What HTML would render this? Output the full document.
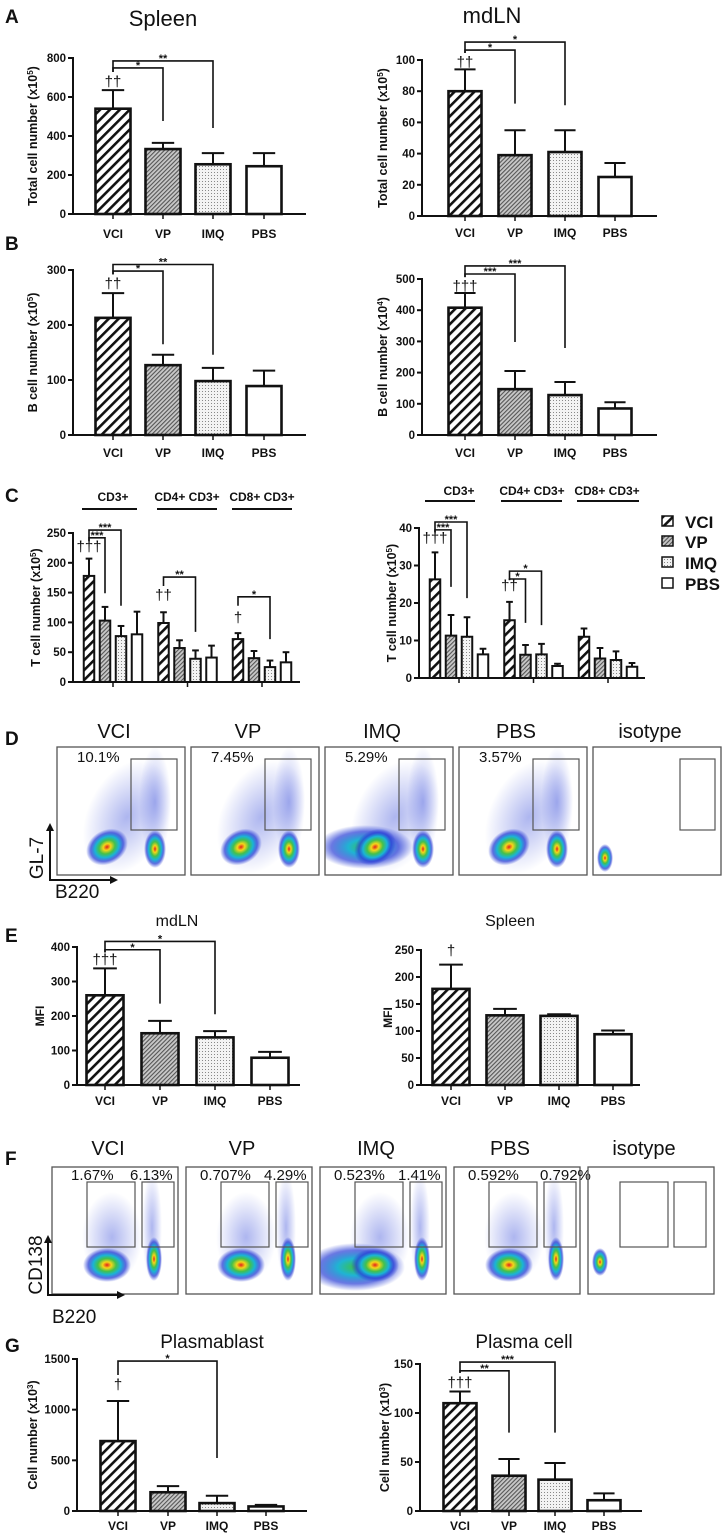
<!DOCTYPE html>
<html><head><meta charset="utf-8"><style>
html,body{margin:0;padding:0;background:#fff;}
svg{display:block;font-family:"Liberation Sans",Arial,sans-serif;}
</style></head>
<body>
<svg id="fig" width="724" height="1535" viewBox="0 0 724 1535" xmlns="http://www.w3.org/2000/svg">
<defs>
<pattern id="p-vci" patternUnits="userSpaceOnUse" width="7" height="7" patternTransform="rotate(45)">
<rect width="7" height="7" fill="#fff"/><rect x="0" y="0" width="2.6" height="7" fill="#111"/></pattern>
<pattern id="p-vp" patternUnits="userSpaceOnUse" width="3" height="3" patternTransform="rotate(45)">
<rect width="3" height="3" fill="#c8c8c8"/><rect x="0" y="0" width="1.1" height="3" fill="#555"/></pattern>
<pattern id="p-imq" patternUnits="userSpaceOnUse" width="3" height="3">
<rect width="3" height="3" fill="#f3f3f3"/><rect x="1" y="1" width="1" height="1" fill="#888"/></pattern>
<pattern id="p-pbs" patternUnits="userSpaceOnUse" width="4" height="4"><rect width="4" height="4" fill="#fff"/></pattern>
<radialGradient id="g-core"><stop offset="0" stop-color="#e3201b"/><stop offset="0.18" stop-color="#f5d619"/><stop offset="0.38" stop-color="#44c04a"/><stop offset="0.58" stop-color="#19b5d6"/><stop offset="0.78" stop-color="#2a3fd6" stop-opacity="0.75"/><stop offset="1" stop-color="#2a3fd6" stop-opacity="0"/></radialGradient>
<radialGradient id="g-core2"><stop offset="0" stop-color="#3ac24a"/><stop offset="0.35" stop-color="#1fb4d3"/><stop offset="0.7" stop-color="#2a3fd6" stop-opacity="0.7"/><stop offset="1" stop-color="#2a3fd6" stop-opacity="0"/></radialGradient>
<radialGradient id="g-haze"><stop offset="0" stop-color="#3348d8" stop-opacity="0.4"/><stop offset="1" stop-color="#3348d8" stop-opacity="0"/></radialGradient>
</defs>
</svg>
<script>
// ---------- data ----------
const cats = ['VCI','VP','IMQ','PBS'];
const aSpleenVals = [540,333,255,245];
const aSpleenErr  = [635,365,312,312];
const aLnVals = [80,39,41,25];
const aLnErr  = [94,55,55,34];
const bSpleenVals = [213,127,98,89];
const bSpleenErr  = [258,146,122,117];
const bLnVals = [408,147,128,85];
const bLnErr  = [455,205,170,105];
const cGroups = ['CD3+','CD4+ CD3+','CD8+ CD3+'];
const cSpleenVals = [[178,103,77,80],[99,57,39,41],[72,40,25,33]];
const cSpleenErr  = [[207,126,94,118],[117,70,53,61],[82,52,36,50]];
const cLnVals = [[26.3,11.3,11,6.3],[15.4,6.2,6.3,3.2],[11,5.2,4.8,3]];
const cLnErr  = [[33.5,16.8,16.2,7.8],[20.3,8.8,9.1,3.8],[13.2,8,7.1,4]];
const eLnVals = [260,150,138,79];
const eLnErr  = [338,186,156,96];
const eSpleenVals = [178,129,128,94];
const eSpleenErr  = [223,141,131,101];
const gBlastVals = [690,185,78,45];
const gBlastErr  = [1085,245,150,60];
const gPlasmaVals = [110,36,32,11];
const gPlasmaErr  = [122,53,49,18];
const dPercents = ['10.1%','7.45%','5.29%','3.57%'];
const fPercentsL = ['1.67%','0.707%','0.523%','0.592%'];
const fPercentsR = ['6.13%','4.29%','1.41%','0.792%'];
const flowTitles = ['VCI','VP','IMQ','PBS','isotype'];

// ---------- helpers ----------
const NS='http://www.w3.org/2000/svg';
const svg=document.getElementById('fig');
const pats=['url(#p-vci)','url(#p-vp)','url(#p-imq)','url(#p-pbs)'];
function mk(tag,attrs,parent){const e=document.createElementNS(NS,tag);for(const k in attrs)e.setAttribute(k,attrs[k]);(parent||svg).appendChild(e);return e;}
function txt(s,x,y,size,opts,parent){opts=opts||{};const t=mk('text',{x:x,y:y,'font-size':size,'font-weight':opts.bold?'bold':'normal','text-anchor':opts.anchor||'start',fill:'#111'},parent);t.textContent=s;return t;}

function chart(c){
  const g=mk('g',{});
  
  
  const s=v=>c.y0-v/c.max*(c.y0-c.yTop);
  const ya=mk('line',{x1:c.ax,y1:c.yTop-1,x2:c.ax,y2:c.y0,stroke:'#111','stroke-width':2},g);
  
  
  const xa=mk('line',{x1:c.ax,y1:c.y0,x2:c.xEnd,y2:c.y0,stroke:'#111','stroke-width':2},g);
  
  
  for(let t=0;t<=c.max+1e-9;t+=c.step){
    mk('line',{x1:c.ax-5,y1:s(t),x2:c.ax,y2:s(t),stroke:'#111','stroke-width':2},g);
    const tl=txt(String(t),c.ax-7,s(t)+4,11.5,{bold:true,anchor:'end'},g);
    
    
  }
  const yt=mk('text',{transform:`translate(${c.ylx},${(c.yTop+c.y0)/2}) rotate(-90)`,'text-anchor':'middle','font-size':c.ytSize||12.5,'font-weight':'bold',fill:'#111'},g);
  
  
  yt.textContent=c.ylabel;
  if(c.ysup){const sp=mk('tspan',{'baseline-shift':'super','font-size':8},yt);sp.textContent=c.ysup;const sp2=mk('tspan',{},yt);sp2.textContent=')';}
  c.vals.forEach((v,i)=>{
    const cx=c.centers[i],w=c.bw,top=s(v);
    const eb=mk('line',{x1:cx,y1:top,x2:cx,y2:s(c.errs[i]),stroke:'#111','stroke-width':2},g);
    
    
    mk('line',{x1:cx-w*0.32,y1:s(c.errs[i]),x2:cx+w*0.32,y2:s(c.errs[i]),stroke:'#111','stroke-width':2},g);
    const r=mk('rect',{x:cx-w/2,y:top,width:w,height:c.y0-top,fill:pats[i%4],stroke:'#111','stroke-width':c.bw>20?2.6:2},g);
    
    
  });
  (c.xticks||c.centers).forEach(x=>mk('line',{x1:x,y1:c.y0,x2:x,y2:c.y0+5,stroke:'#111','stroke-width':1.5},g));
  if(c.labelY){c.centers.forEach((x,i)=>{const l=txt(cats[i],x,c.labelY,12,{bold:true,anchor:'middle'},g);
    
    });}
  (c.brackets||[]).forEach(b=>{
    const x1=c.centers[b.from],x2=c.centers[b.to],yl=s(b.level);
    const p=mk('path',{d:`M${x1},${s(b.start)}V${yl}H${x2}V${s(b.drop)}`,fill:'none',stroke:'#111','stroke-width':1.6},g);
    
    
    const st=txt(b.label,(x1+x2)/2,yl+1,11,{bold:true,anchor:'middle'},g);
    
    
  });
  (c.daggers||[]).forEach(d=>{
    const dt=txt(d.label,c.centers[d.i],s(d.v),15,{anchor:'middle'},g);
    
    
  });
}
function label(s,x,y,size,bold,name){const t=txt(s,x,y,size,{bold:bold,anchor:bold?'start':'middle'});
  
  }

label('A',5,23,19,true,'panel-label-a');
label('B',5,250,19,true,'panel-label-b');
label('C',5,502,19,true,'panel-label-c');
label('D',5,745,19,true,'panel-label-d');
label('E',5,942,19,true,'panel-label-e');
label('F',5,1165,19,true,'panel-label-f');
label('G',5,1352,19,true,'panel-label-g');
label('Spleen',163,26,22,false,'title-spleen');
label('mdLN',492,23,22,false,'title-mdln');
label('mdLN',177,926,16,false,'title-e-mdln');
label('Spleen',510,926,16,false,'title-e-spleen');
label('Plasmablast',212,1348,19,false,'title-plasmablast');
label('Plasma cell',524,1348,19,false,'title-plasma-cell');

const cA=[113,163,213,264], cAr=[465,515,565,615];
chart({name:'chart-a-spleen',ax:73,yTop:58,y0:214,max:800,step:200,xEnd:306,centers:cA,bw:35,vals:aSpleenVals,errs:aSpleenErr,labelY:238,ylabel:'Total cell number (x10',ysup:'5',ylx:37,
  brackets:[{from:0,to:1,level:749,start:728,drop:477,label:'*'},{from:0,to:2,level:785,start:728,drop:441,label:'**'}],daggers:[{i:0,v:655,label:'††'}]});
chart({name:'chart-a-mdln',ax:422,yTop:60,y0:216,max:100,step:20,xEnd:657,centers:cAr,bw:33,vals:aLnVals,errs:aLnErr,labelY:237,ylabel:'Total cell number (x10',ysup:'5',ylx:387,
  brackets:[{from:0,to:1,level:106.4,start:104.5,drop:72,label:'*'},{from:0,to:2,level:111.5,start:104.5,drop:71,label:'*'}],daggers:[{i:0,v:95.5,label:'††'}]});
chart({name:'chart-b-spleen',ax:73,yTop:270,y0:435,max:300,step:100,xEnd:306,centers:cA,bw:35,vals:bSpleenVals,errs:bSpleenErr,labelY:457,ylabel:'B cell number (x10',ysup:'5',ylx:37,
  brackets:[{from:0,to:1,level:298,start:292,drop:165,label:'*'},{from:0,to:2,level:310,start:292,drop:146,label:'**'}],daggers:[{i:0,v:266,label:'††'}]});
chart({name:'chart-b-mdln',ax:422,yTop:279,y0:435,max:500,step:100,xEnd:657,centers:cAr,bw:33,vals:bLnVals,errs:bLnErr,labelY:457,ylabel:'B cell number (x10',ysup:'4',ylx:387,
  brackets:[{from:0,to:1,level:516,start:506,drop:298,label:'***'},{from:0,to:2,level:542,start:506,drop:279,label:'***'}],daggers:[{i:0,v:462,label:'†††'}]});
function grpCenters(start){const a=[];for(let gI=0;gI<3;gI++)for(let m=0;m<4;m++)a.push(start+gI*74.5+m*16);return a;}
const cl=grpCenters(89), cr=grpCenters(435);
chart({name:'chart-c-spleen',ax:73,yTop:533,y0:682,max:250,step:50,xEnd:300,centers:cl,bw:10.5,vals:cSpleenVals.flat(),errs:cSpleenErr.flat(),xticks:[113,187.5,262],ylabel:'T cell number (x10',ysup:'5',ylx:40,
  brackets:[{from:0,to:1,level:242,start:237,drop:149,label:'***'},{from:0,to:2,level:255,start:237,drop:128,label:'***'},
            {from:4,to:6,level:176,start:161,drop:84,label:'**'},{from:8,to:10,level:143,start:128,drop:72,label:'*'}],
  daggers:[{i:0,v:219,label:'†††'},{i:4,v:138,label:'††'},{i:8,v:100,label:'†'}]});
chart({name:'chart-c-mdln',ax:419,yTop:528,y0:678,max:40,step:10,xEnd:645,centers:cr,bw:10.5,vals:cLnVals.flat(),errs:cLnErr.flat(),xticks:[459,533.5,608],ylabel:'T cell number (x10',ysup:'5',ylx:396,
  brackets:[{from:0,to:1,level:39.5,start:38.9,drop:24.3,label:'***'},{from:0,to:2,level:41.6,start:38.9,drop:21.3,label:'***'},
            {from:4,to:5,level:26.4,start:26.1,drop:14.7,label:'*'},{from:4,to:6,level:28.5,start:26.1,drop:14.1,label:'*'}],
  daggers:[{i:0,v:36,label:'†††'},{i:4,v:23.3,label:'††'}]});
[[113,501,82,137,509],[187,501,157,217,509],[262,501,232,292,509],[459,495,425,475,501],[532,495,501,562,501],[607,495,577,639,501]].forEach((h,k)=>{
  const t=txt(cGroups[k%3],h[0],h[1],12,{bold:true,anchor:'middle'});
  
  
  const l=mk('line',{x1:h[2],y1:h[4],x2:h[3],y2:h[4],stroke:'#111','stroke-width':2});
  
  
});
cats.forEach((c,i)=>{
  const y=[528,548,569,590][i];
  const b=mk('rect',{x:662,y:y-12,width:11,height:10,fill:pats[i],stroke:'#111','stroke-width':1.5});
  
  
  const t=txt(c,685,y,17,{bold:true});
  
  
});
chart({name:'chart-e-mdln',ax:77,yTop:947,y0:1085,max:400,step:100,xEnd:300,centers:[105,160,215,270],bw:37,vals:eLnVals,errs:eLnErr,labelY:1105,ylabel:'MFI',ylx:44,ytSize:12,
  brackets:[{from:0,to:1,level:392,start:384,drop:236,label:'*'},{from:0,to:2,level:416,start:384,drop:205,label:'*'}],daggers:[{i:0,v:350,label:'†††'}]});
chart({name:'chart-e-spleen',ax:421,yTop:950,y0:1085,max:250,step:50,xEnd:640,centers:[451,505,559,613],bw:37,vals:eSpleenVals,errs:eSpleenErr,labelY:1105,ylabel:'MFI',ylx:392,ytSize:12,
  daggers:[{i:0,v:240,label:'†'}]});
chart({name:'chart-g-plasmablast',ax:77,yTop:1359,y0:1511,max:1500,step:500,xEnd:307,centers:[118,168,217,266],bw:35,vals:gBlastVals,errs:gBlastErr,labelY:1530,ylabel:'Cell number (x10',ysup:'3',ylx:37,
  brackets:[{from:0,to:2,level:1480,start:1342,drop:523,label:'*'}],daggers:[{i:0,v:1200,label:'†'}]});
chart({name:'chart-g-plasma-cell',ax:420,yTop:1364,y0:1511,max:150,step:50,xEnd:642,centers:[460,509,555,604],bw:33,vals:gPlasmaVals,errs:gPlasmaErr,labelY:1530,ylabel:'Cell number (x10',ysup:'3',ylx:389,
  brackets:[{from:0,to:1,level:143,start:141,drop:80,label:'**'},{from:0,to:2,level:152,start:141,drop:80,label:'***'}],daggers:[{i:0,v:126,label:'†††'}]});

function ell(cx,cy,rx,ry,rot,fill,parent){return mk('ellipse',{cx:cx,cy:cy,rx:rx,ry:ry,fill:fill,transform:`rotate(${rot},${cx},${cy})`},parent);}
function flowRow(kind){
  const D=kind==='D';
  const xs=D?[57,191,325,459,593]:[52,186,320,454,588];
  const y=D?747:1167, w=D?128:126, h=D?128:127;
  xs.forEach((x,i)=>{
    const g=mk('g',{});
    
    
    const tt=txt(flowTitles[i],x+w/2-7,D?738:1155,20,{anchor:'middle'},g);
    
    
    const cp=mk('clipPath',{id:'cp'+kind+i},g);
    mk('rect',{x:x,y:y,width:w,height:h},cp);
    const inner=mk('g',{'clip-path':`url(#cp${kind}${i})`},g);
    if(i<4){
      if(D){
        ell(x+70,y+70,40,60,25,'url(#g-haze)',inner);
        ell(x+98,y+55,16,55,0,'url(#g-haze)',inner);
        if(i===2)ell(x+40,y+100,48,22,0,'url(#g-core2)',inner);
        ell(x+50,y+100,22,17,-30,'url(#g-core)',inner);
        ell(x+98,y+102,11,19,0,'url(#g-core)',inner);
      }else{
        ell(x+60,y+70,30,45,0,'url(#g-haze)',inner);
        ell(x+100,y+60,10,55,0,'url(#g-haze)',inner);
        if(i===2)ell(x+35,y+100,50,24,0,'url(#g-core2)',inner);
        ell(x+55,y+98,24,17,0,'url(#g-core)',inner);
        ell(x+102,y+92,8,22,0,'url(#g-core)',inner);
      }
    }else{
      ell(x+12,y+(D?111:95),8,14,0,'url(#g-core)',inner);
    }
    const fr=mk('rect',{x:x,y:y,width:w,height:h,fill:'none',stroke:'#555','stroke-width':1.3},g);
    
    
    if(D){
      const gx=i<4?x+74:x+87;
      const gate=mk('rect',{x:gx,y:759,width:i<4?46:35,height:71,fill:'none',stroke:'#555','stroke-width':1.2},g);
      
      
      if(i<4){const p=txt(dPercents[i],x+20,762,15,{},g);
        
        }
    }else{
      const g1=mk('rect',{x:i<4?x+35:x+32,y:1182,width:48,height:65,fill:'none',stroke:'#555','stroke-width':1.2},g);
      
      
      const g2=mk('rect',{x:i<4?x+90:x+86,y:1182,width:32,height:65,fill:'none',stroke:'#555','stroke-width':1.2},g);
      
      
      if(i<4){
        const p1=txt(fPercentsL[i],x+(i===0?19:14),1180,15,{},g);
        
        
        const p2=txt(fPercentsR[i],x+(i===3?86:78),1180,15,{},g);
        
        
      }
    }
  });
  const ax=D?50:48, by=D?880:1295, ty=D?823:1235, rx=D?118:125;
  const ar=mk('path',{d:`M${ax},${ty+6}V${by}H${rx-6}`,fill:'none',stroke:'#111','stroke-width':2});
  
  
  mk('path',{d:`M${ax-4},${ty+8}L${ax},${ty}L${ax+4},${ty+8}Z`,fill:'#111'});
  mk('path',{d:`M${rx-8},${by-4}L${rx},${by}L${rx-8},${by+4}Z`,fill:'#111'});
  const yl=mk('text',{transform:`translate(${D?43:42},${D?858:1265}) rotate(-90)`,'text-anchor':'middle','font-size':19,fill:'#111'});
  
  
  yl.textContent=D?'GL-7':'CD138';
  const xl=txt('B220',D?55:52,D?898:1323,19,{});
  
  
}
flowRow('D');
flowRow('F');
</script>
</body></html>
